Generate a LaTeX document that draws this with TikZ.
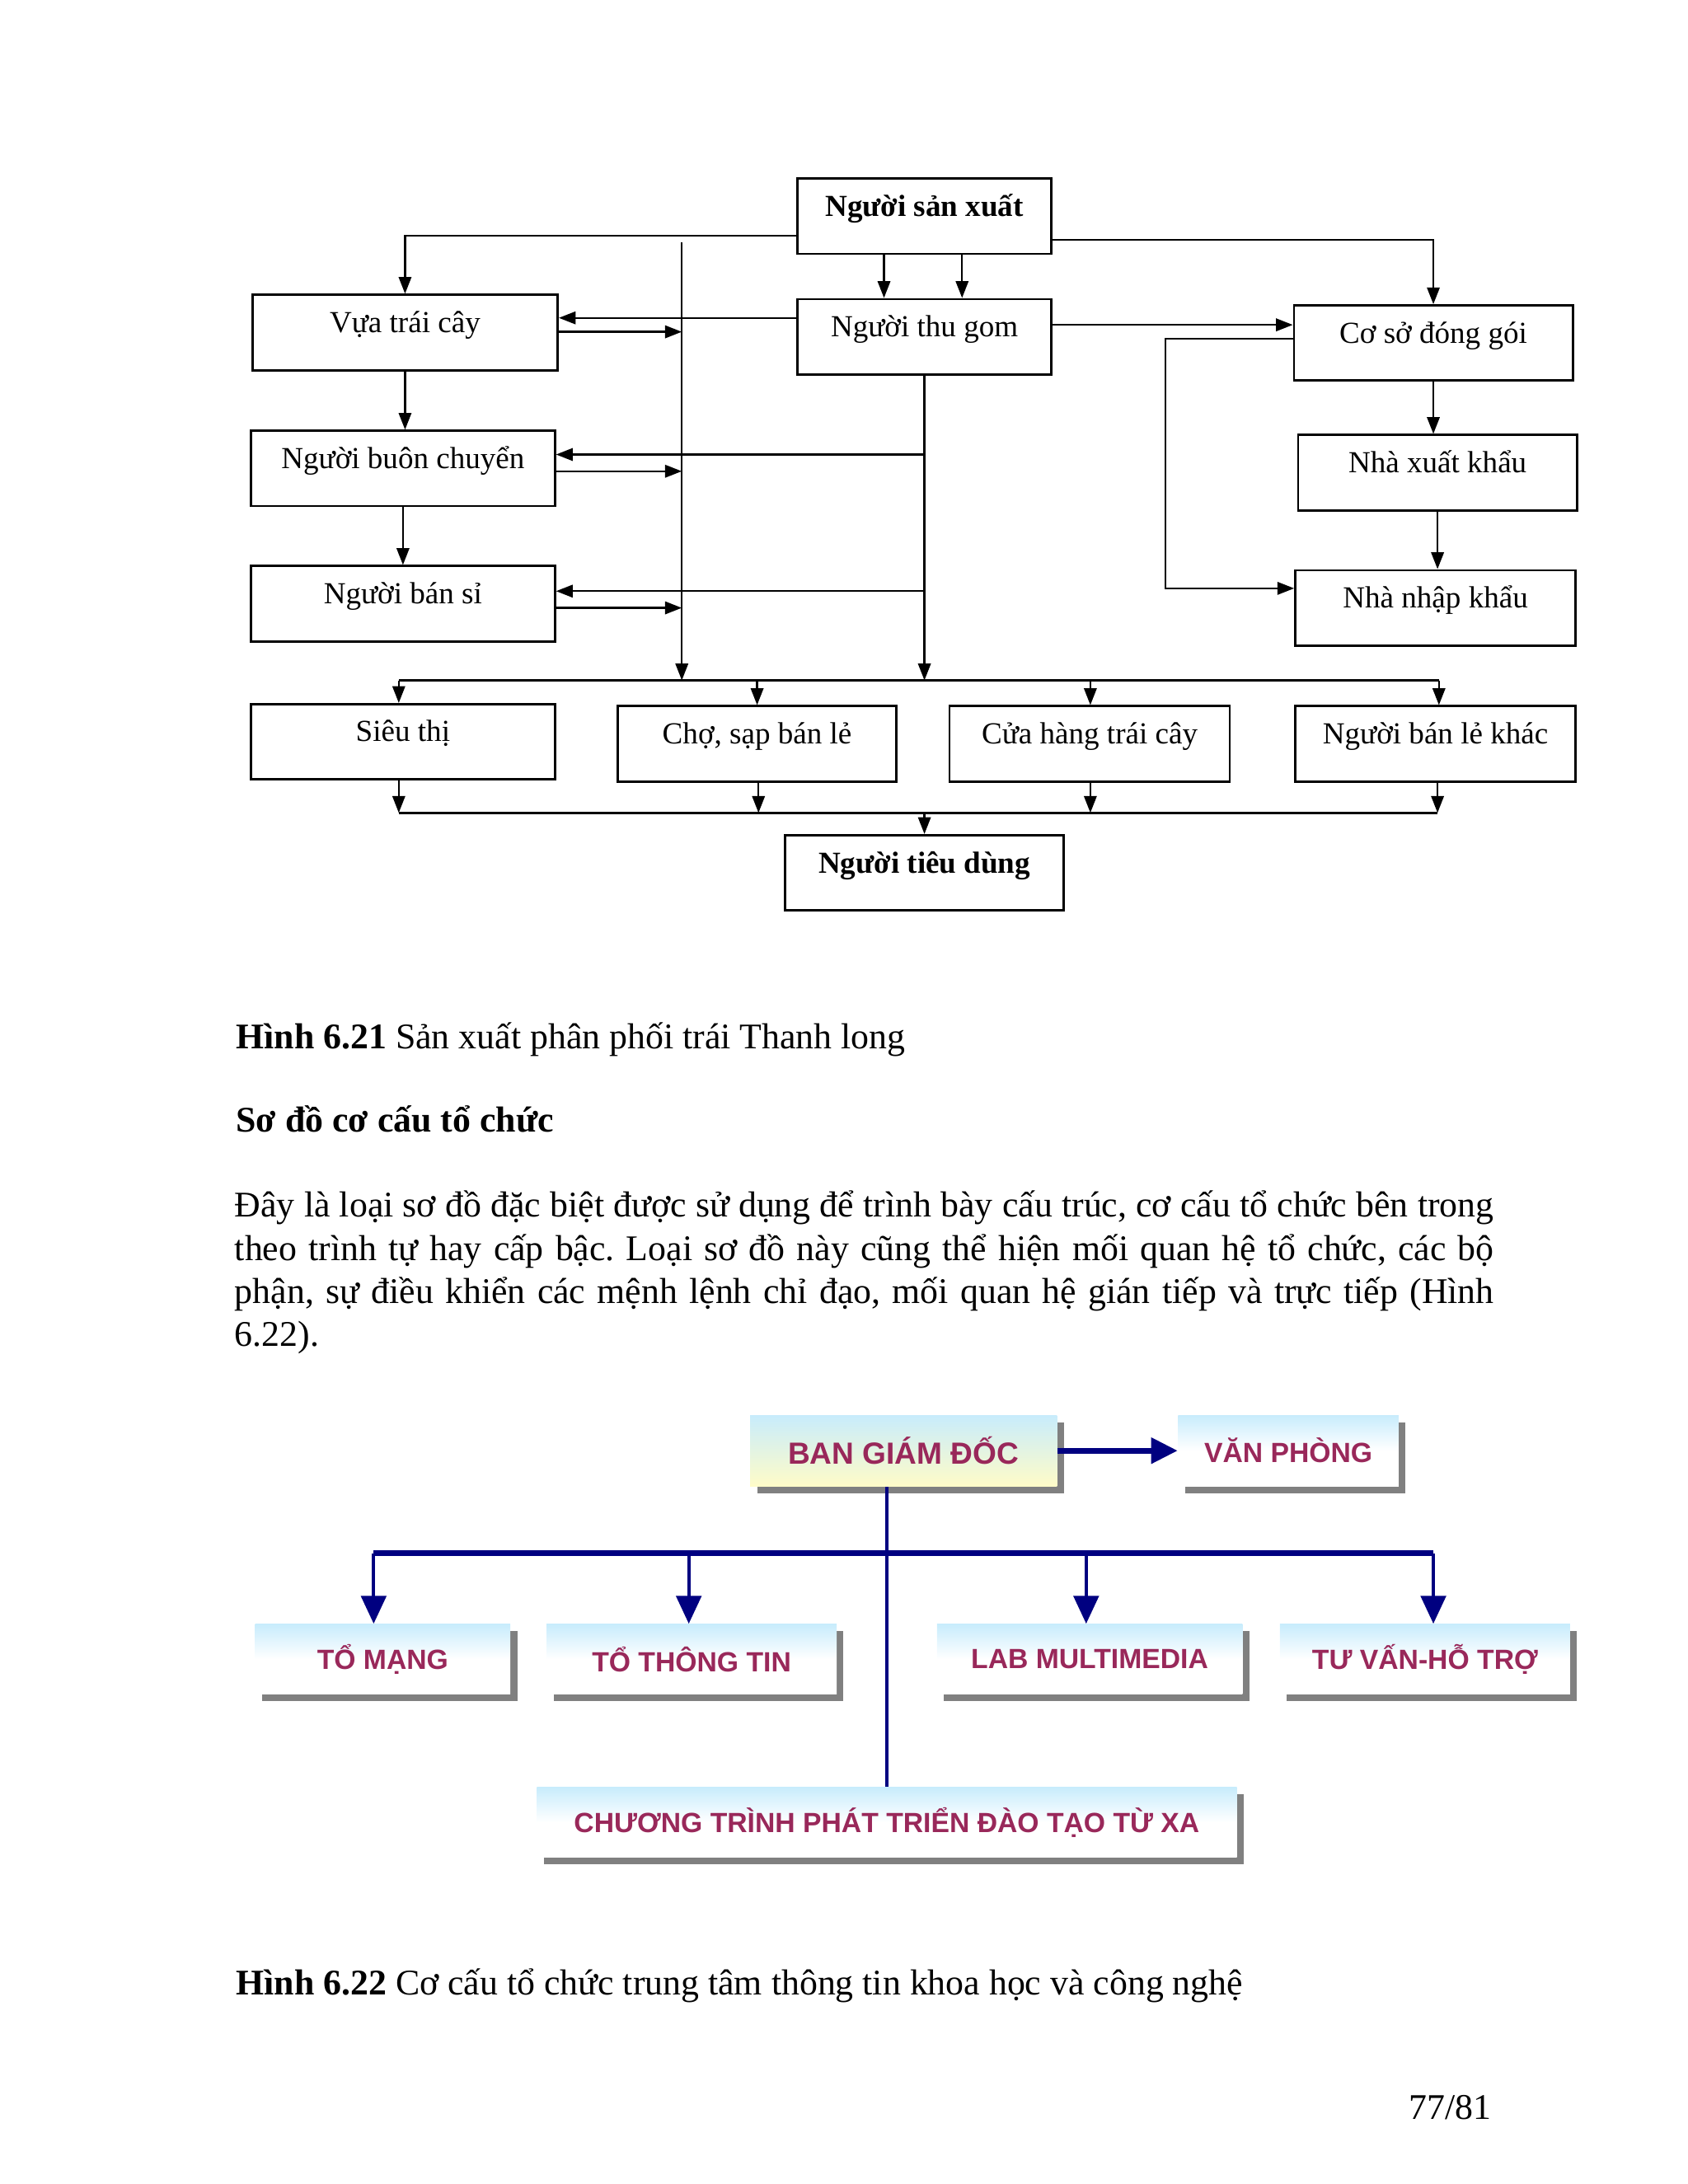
\documentclass[tikz,border=0pt]{standalone}
\usepackage{fontspec}
\setmainfont{Liberation Serif}
\newfontfamily\orgfont{Liberation Sans}
\usetikzlibrary{arrows.meta,shadows}
\definecolor{navyline}{RGB}{0,0,128}
\definecolor{plum}{RGB}{153,40,90}
\definecolor{skytop}{RGB}{200,236,252}
\definecolor{creambot}{RGB}{255,252,200}
\frenchspacing
\begin{document}
\begin{tikzpicture}[x=0.5bp,y=-0.5bp,
	box/.style={draw, line width=0.8bp, inner sep=0pt, text height=13.5bp, text depth=13.5bp, font=\fontsize{11}{13}\selectfont},
	arr/.style={line width=0.7bp, -{Triangle[length=6bp,width=4.5bp]}},
	link/.style={line width=0.8bp},
	orgbox/.style={inner sep=0pt, minimum height=25bp, top color=skytop, bottom color=white, middle color=white, drop shadow={shadow xshift=2.5bp, shadow yshift=-2.5bp, fill=black!50, opacity=1}, font=\orgfont\bfseries\fontsize{10}{12}\selectfont, text=plum},
	orgarr/.style={draw=navyline, line width=1.2bp, -{Triangle[length=10bp,width=9bp]}},
	txt/.style={inner sep=0pt, font=\fontsize{13}{15.5}\selectfont}]
	\useasboundingbox (0,0) rectangle (1210.5,1566.5);
	
	% hinh 6.21
	\node [box, minimum width=91bp, font=\bfseries\fontsize{11}{13}\selectfont] (nsx) at (663,155) {Người sản xuất};
	\node [box, minimum width=109.5bp] (vua) at (290.5,238.5) {Vựa trái cây};
	\node [box, minimum width=91bp] (thugom) at (663,241.5) {Người thu gom};
	\node [box, minimum width=100bp] (cosodg) at (1028,246) {Cơ sở đóng gói};
	\node [box, minimum width=109bp] (buon) at (289,336) {Người buôn chuyển};
	\node [box, minimum width=100bp] (nxk) at (1031,339) {Nhà xuất khẩu};
	\node [box, minimum width=109bp] (bansi) at (289,433) {Người bán sỉ};
	\node [box, minimum width=100.5bp] (nnk) at (1029.5,436) {Nhà nhập khẩu};
	\node [box, minimum width=109bp] (sieuthi) at (289,532) {Siêu thị};
	\node [box, minimum width=100bp] (cho) at (543,533.5) {Chợ, sạp bán lẻ};
	\node [box, minimum width=100.5bp] (cuahang) at (781.5,533.5) {Cửa hàng trái cây};
	\node [box, minimum width=100.5bp] (banle) at (1029.5,533.5) {Người bán lẻ khác};
	\node [box, minimum width=100bp, font=\bfseries\fontsize{11}{13}\selectfont] (ntd) at (663,626) {Người tiêu dùng};
	
	\coordinate (spine) at (489,174);
	\coordinate (busA) at (286,488);
	\coordinate (busB) at (1032,488);
	\coordinate (busC) at (286,583);
	\coordinate (busD) at (1031,583);
	
	\draw [arr] (nsx.west |- 0,169) -| (vua.north);
	\draw [arr] (634,0 |- nsx.south) -- (634,0 |- thugom.north);
	\draw [arr] (690,0 |- nsx.south) -- (690,0 |- thugom.north);
	\draw [arr] (nsx.east |- 0,172) -| (cosodg.north);
	\draw [arr] (thugom.west |- 0,228) -- (vua.east |- 0,228);
	\draw [arr] (vua.east |- 0,238) -- (spine |- 0,238);
	\draw [arr] (thugom.east |- 0,233) -- (cosodg.west |- 0,233);
	\draw [arr] (cosodg.west |- 0,243) -| (836,330) |- (nnk.west |- 0,422);
	\draw [arr] (cosodg.south) -- (cosodg.south |- nxk.north);
	\draw [arr] (nxk.south) -- (nxk.south |- nnk.north);
	\draw [arr] (vua.south) -- (vua.south |- buon.north);
	\draw [arr] (buon.south) -- (buon.south |- bansi.north);
	\draw [arr] (thugom.south |- 0,326) -- (buon.east |- 0,326);
	\draw [arr] (buon.east |- 0,338) -- (spine |- 0,338);
	\draw [arr] (thugom.south |- 0,424) -- (bansi.east |- 0,424);
	\draw [arr] (bansi.east |- 0,436) -- (spine |- 0,436);
	\draw [arr] (spine) -- (spine |- busA);
	\draw [arr] (thugom.south) -- (thugom.south |- busA);
	\draw [link] (busA) -- (busB);
	\foreach \xb/\nd in {286/sieuthi,543/cho,782/cuahang,1032/banle}
		\draw [arr] (\xb,488) -- (\xb,0 |- \nd.north);
	\foreach \xb/\nd in {286/sieuthi,544/cho,782/cuahang,1031/banle}
		\draw [arr] (\xb,0 |- \nd.south) -- (\xb,583);
	\draw [link] (busC) -- (busD);
	\draw [arr] (ntd.north |- busC) -- (ntd.north);
	
	% chu thich va doan van
	\node [txt, anchor=base west] (cap1) at (169,752) {\textbf{Hình 6.21} Sản xuất phân phối trái Thanh long};
	\node [txt, anchor=base west] (heading) at (169,812) {\textbf{Sơ đồ cơ cấu tổ chức}};
	\node [txt, anchor=base west, text width=451.5bp, align=justify] (para) at (168,873) {Đây là loại sơ đồ đặc biệt được sử dụng để trình bày cấu trúc, cơ cấu tổ chức bên trong\linebreak theo trình tự hay cấp bậc. Loại sơ đồ này cũng thể hiện mối quan hệ tổ chức, các bộ\linebreak phận, sự điều khiển các mệnh lệnh chỉ đạo, mối quan hệ gián tiếp và trực tiếp (Hình\linebreak 6.22).};
	
	% hinh 6.22
	\node [orgbox, minimum width=110bp, minimum height=25.5bp, bottom color=creambot, middle color=skytop!50!creambot, font=\orgfont\bfseries\fontsize{11}{13}\selectfont] (bgd) at (648,1040.5) {BAN GIÁM ĐỐC};
	\node [orgbox, minimum width=79bp, minimum height=25.5bp] (vp) at (924,1040.5) {VĂN PHÒNG};
	\node [orgbox, minimum width=91.5bp] (tomang) at (274.5,1190) {TỔ MẠNG};
	\node [orgbox, minimum width=104bp] (tott) at (496,1190) {TỔ THÔNG TIN};
	\node [orgbox, minimum width=109.5bp] (lab) at (781.5,1190) {LAB MULTIMEDIA};
	\node [orgbox, minimum width=104bp] (tuvan) at (1022,1190) {TƯ VẤN-HỖ TRỢ};
	\node [orgbox, minimum width=251bp] (ctr) at (636,1307) {CHƯƠNG TRÌNH PHÁT TRIỂN ĐÀO TẠO TỪ XA};
	
	\coordinate (orgL) at (268,1114);
	\coordinate (orgR) at (1028,1114);
	\draw [orgarr, line width=2bp, -{Triangle[length=9.5bp,width=9bp]}] (bgd.east) -- (vp.west);
	\draw [draw=navyline, line width=1.2bp] (ctr.north |- bgd.south) -- (ctr.north);
	\draw [draw=navyline, line width=1.8bp] (orgL) -- (orgR);
	\foreach \xb/\nd in {268/tomang,494/tott,779/lab,1028/tuvan}
		\draw [orgarr] (\xb,1114) -- (\xb,0 |- \nd.north);
	
	\node [txt, anchor=base west] (cap2) at (169,1431) {\textbf{Hình 6.22} Cơ cấu tổ chức trung tâm thông tin khoa học và công nghệ};
	\node [txt, anchor=base east] (pageno) at (1070,1520) {77/81};
\end{tikzpicture}
\end{document}
